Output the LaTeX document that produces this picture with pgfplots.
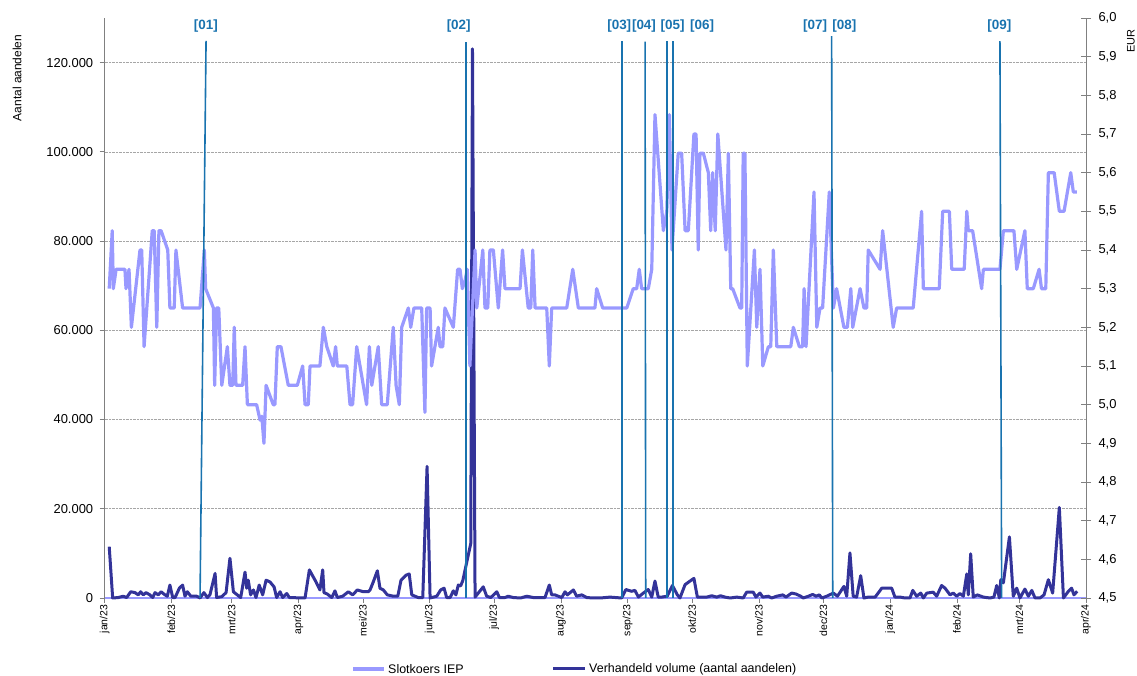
\documentclass[border=0pt]{standalone}
\usepackage{fontspec}
\setmainfont{Liberation Sans}
\usepackage{pgfplots}
\pgfplotsset{compat=1.18}
\definecolor{price}{HTML}{9999FF}
\definecolor{vol}{HTML}{333399}
\definecolor{evt}{RGB}{25,115,175}
\definecolor{axgray}{RGB}{128,128,128}
\begin{document}
\begin{tikzpicture}[x=1bp,y=1bp]
\useasboundingbox (0,0) rectangle (1137,676);
% ---------- volume (left axis) ----------
\begin{axis}[
  at={(104.7bp,78bp)}, anchor=south west,
  scale only axis, width=981.3bp, height=580bp,
  xmin=0, xmax=456, ymin=0, ymax=130000,
  axis y line*=left, axis x line*=bottom,
  x axis line style={draw=price, line width=2.5bp, -},
  y axis line style={draw=axgray, line width=0.8bp, -},
  tick style={draw=axgray, line width=0.8bp},
  tick align=outside, major tick length=5bp,
  xtick={0,31,59,90,120,151,181,212,243,273,304,334,365,396,425,456},
  xticklabels={jan/23,feb/23,mrt/23,apr/23,mei/23,jun/23,jul/23,aug/23,sep/23,okt/23,nov/23,dec/23,jan/24,feb/24,mrt/24,apr/24},
  xticklabel style={rotate=90, anchor=east, font=\fontsize{10.5}{12}\selectfont, inner sep=1.5bp, text=black},
  ytick={0,20000,40000,60000,80000,100000,120000},
  scaled y ticks=false,
  yticklabel style={font=\fontsize{13}{15}\selectfont, xshift=-3bp,
    /pgf/number format/.cd, fixed, precision=0, 1000 sep={.}, assume math mode=true},
  ymajorgrids, grid style={densely dotted, draw=gray!70, line width=0.6bp},
  clip=false,
]
\addplot[vol, line width=3bp, line join=round] coordinates {
(2.1,11500) (3.7,0) (6.3,100) (8.6,400) (10.2,100) (12.1,1400) (14.1,1200) (15.6,700) (16.7,1400) (17.9,700) (19.2,1200) (21.0,700) (22.3,100) (23.4,1200) (24.9,700) (26.2,1400) (28.0,700) (29.1,400) (30.3,2900) (31.6,100) (32.7,100) (34.7,2200) (36.2,2900) (37.3,400) (38.4,1400) (40.0,400) (42.8,400) (44.3,0) (46.1,1200) (47.7,100) (48.9,700) (51.3,5500) (52.0,100) (54.4,300) (56.4,1200) (58.2,8900) (59.8,1400) (61.6,700) (63.2,100) (65.2,5800) (66.0,2200) (66.7,4000) (67.8,700) (69.1,1800) (70.3,100) (71.8,2900) (73.4,700) (75.0,4000) (76.8,3600) (78.7,2500) (79.9,100) (81.5,1400) (82.7,100) (84.6,1000) (85.8,100) (87.6,100) (90.4,0) (93.1,0) (95.1,6300) (98.2,3600) (100.0,1800) (101.3,6300) (101.9,1200) (103.4,900) (105.5,100) (107.0,1600) (108.1,100) (110.6,400) (113.2,1400) (115.2,700) (117.4,1800) (120.2,1400) (122.5,1400) (123.3,1800) (124.8,3600) (126.7,6100) (127.9,2200) (129.5,1800) (131.3,700) (134.1,400) (136.2,400) (137.7,4000) (140.0,5100) (141.5,5400) (142.7,700) (145.7,100) (147.8,100) (149.8,29500) (151.2,0) (154.3,400) (156.1,1800) (157.7,2200) (158.9,100) (160.5,100) (162.0,1600) (163.2,700) (164.3,2900) (165.4,2700) (166.4,3900) (170.1,12200) (170.9,123100) (172.1,200) (173.1,800) (175.9,2500) (177.5,400) (179.4,100) (182.2,1400) (183.4,100) (186.0,100) (187.5,400) (189.9,100) (193.3,0) (196.1,400) (199.2,100) (204.6,100) (206.6,2900) (207.7,700) (209.2,700) (212.4,100) (213.9,1400) (215.0,700) (217.8,1800) (219.3,400) (221.7,700) (224.0,100) (227.0,0) (230.2,0) (234.8,200) (240.2,0) (242.2,1900) (244.8,1500) (246.4,1700) (248.0,200) (250.3,1100) (252.6,1900) (254.2,200) (255.7,3800) (257.2,200) (258.8,200) (261.4,400) (263.8,2800) (266.1,700) (267.3,0) (269.7,3000) (272.0,3800) (273.8,4400) (275.4,200) (277.4,200) (279.7,200) (282.1,500) (284.4,200) (286.2,500) (288.2,200) (290.6,0) (293.7,200) (296.7,0) (298.3,1300) (301.4,1300) (302.6,200) (304.5,1100) (305.8,200) (308.4,400) (309.9,0) (312.3,400) (315.1,700) (316.6,200) (319.2,1100) (321.2,900) (323.4,400) (324.6,0) (327.0,400) (329.0,800) (330.5,400) (332.1,700) (333.2,0) (335.5,400) (338.6,1100) (340.5,400) (343.5,2600) (344.8,400) (346.3,10100) (347.8,400) (349.4,200) (351.3,5000) (352.8,0) (354.8,200) (358.0,200) (361.1,2200) (365.7,2200) (367.2,200) (369.6,200) (371.9,0) (374.2,0) (375.5,1700) (377.3,400) (379.2,1100) (380.4,0) (382.0,1100) (385.0,1300) (386.6,400) (388.9,2800) (390.5,2200) (392.8,700) (394.3,1100) (395.9,400) (397.4,1000) (399.0,400) (400.6,5400) (401.3,700) (402.4,9900) (403.6,200) (405.5,700) (408.3,200) (411.4,0) (413.2,200) (414.5,2800) (415.7,0) (416.4,4100) (417.6,3400) (420.4,13700) (422.2,400) (423.8,2200) (425.3,0) (427.6,2000) (429.2,400) (430.8,1700) (432.3,0) (434.6,0) (436.5,700) (438.5,4100) (440.5,1100) (443.6,20300) (445.5,0) (447.8,1500) (449.3,2200) (450.4,700) (451.9,1500)
};
\end{axis}
% ---------- price (right axis) ----------
\begin{axis}[
  at={(104.7bp,78bp)}, anchor=south west,
  scale only axis, width=981.3bp, height=580bp,
  xmin=0, xmax=456, ymin=4.5, ymax=6.0,
  axis y line*=right, axis x line=none,
  y axis line style={draw=axgray, line width=0.8bp, -},
  tick style={draw=axgray, line width=0.8bp},
  tick align=center, major tick length=10bp,
  ytick={4.5,4.6,4.7,4.8,4.9,5.0,5.1,5.2,5.3,5.4,5.5,5.6,5.7,5.8,5.9,6.0},
  yticklabel style={font=\fontsize{13}{15}\selectfont, xshift=4bp,
    /pgf/number format/.cd, fixed, fixed zerofill, precision=1, use comma, assume math mode=true},
  clip=false,
]
\addplot[price, line width=3.2bp, line join=round] coordinates {
(2.1,5.30) (3.5,5.45) (4.0,5.30) (5.3,5.35) (9.4,5.35) (9.9,5.30) (11.3,5.35) (12.4,5.20) (16.4,5.40) (17.2,5.40) (18.3,5.15) (22.1,5.45) (23.0,5.45) (24.2,5.20) (25.2,5.45) (26.2,5.45) (29.3,5.40) (30.3,5.25) (32.3,5.25) (33.1,5.40) (36.2,5.25) (44.3,5.25) (46.3,5.40) (46.9,5.30) (50.5,5.25) (51.1,5.05) (52.0,5.25) (53.0,5.25) (54.4,5.05) (57.0,5.15) (58.2,5.05) (59.5,5.05) (60.2,5.20) (61.0,5.05) (64.1,5.05) (65.2,5.15) (66.3,5.00) (70.6,5.00) (72.2,4.96) (73.0,4.97) (74.0,4.90) (75.0,5.05) (78.3,5.00) (79.1,5.00) (80.2,5.15) (81.9,5.15) (85.3,5.05) (89.5,5.05) (92.0,5.10) (93.1,5.00) (94.6,5.00) (95.4,5.10) (100.0,5.10) (101.6,5.20) (103.2,5.15) (106.2,5.10) (107.3,5.15) (108.1,5.10) (112.5,5.10) (114.0,5.00) (115.2,5.00) (117.1,5.15) (121.7,5.00) (123.0,5.15) (124.1,5.05) (127.1,5.15) (128.7,5.00) (131.3,5.00) (134.1,5.20) (135.4,5.05) (136.9,5.00) (138.0,5.20) (141.1,5.25) (142.2,5.20) (143.7,5.25) (147.3,5.25) (148.8,4.98) (149.6,5.25) (151.2,5.25) (151.9,5.10) (155.0,5.20) (155.8,5.15) (157.1,5.15) (158.1,5.25) (162.0,5.20) (164.0,5.35) (165.1,5.35) (166.2,5.30) (167.4,5.32) (168.5,5.35) (169.7,5.10) (172.1,5.40) (172.9,5.25) (175.7,5.40) (176.7,5.25) (178.0,5.25) (179.0,5.40) (180.6,5.40) (182.9,5.25) (184.9,5.40) (186.0,5.30) (193.0,5.30) (194.1,5.40) (196.8,5.25) (198.0,5.25) (198.9,5.40) (200.0,5.25) (205.4,5.25) (206.6,5.10) (207.7,5.25) (214.7,5.25) (217.5,5.35) (220.1,5.25) (227.8,5.25) (228.6,5.30) (231.4,5.25) (242.6,5.25) (245.6,5.30) (247.2,5.30) (248.4,5.35) (249.5,5.30) (252.6,5.30) (254.2,5.35) (255.7,5.75) (259.6,5.45) (261.2,5.50) (262.4,5.75) (263.6,5.40) (266.5,5.65) (268.1,5.65) (269.7,5.45) (271.2,5.45) (273.8,5.70) (274.8,5.70) (275.8,5.40) (276.6,5.65) (278.2,5.65) (280.5,5.60) (281.6,5.45) (282.5,5.60) (283.7,5.45) (284.9,5.70) (288.7,5.40) (289.8,5.65) (290.9,5.30) (291.8,5.30) (295.2,5.25) (296.0,5.25) (296.7,5.65) (297.5,5.65) (298.6,5.10) (301.9,5.40) (303.0,5.20) (304.5,5.35) (305.8,5.10) (308.4,5.15) (309.5,5.15) (310.7,5.40) (312.3,5.15) (318.8,5.15) (320.0,5.20) (322.8,5.15) (324.3,5.15) (325.0,5.30) (325.9,5.15) (329.6,5.55) (330.9,5.20) (332.4,5.25) (333.6,5.25) (336.7,5.55) (338.6,5.25) (340.1,5.30) (343.5,5.20) (345.1,5.20) (346.7,5.30) (347.6,5.20) (351.0,5.30) (352.8,5.25) (354.1,5.25) (354.8,5.40) (360.3,5.35) (361.5,5.45) (366.4,5.20) (368.0,5.25) (375.7,5.25) (379.6,5.50) (380.4,5.30) (387.8,5.30) (389.4,5.50) (392.5,5.50) (393.6,5.35) (399.4,5.35) (400.6,5.50) (401.3,5.45) (403.3,5.45) (407.5,5.30) (408.3,5.35) (416.0,5.35) (417.6,5.45) (422.5,5.45) (423.8,5.35) (427.6,5.45) (428.7,5.30) (431.5,5.30) (434.2,5.35) (435.3,5.30) (437.3,5.30) (438.5,5.60) (441.2,5.60) (443.6,5.50) (445.8,5.50) (448.9,5.60) (450.1,5.55) (451.7,5.55)
};
% event lines
\addplot[evt, line width=1.6bp, forget plot] coordinates {(44.3,4.5) (47.1,5.941)};
\addplot[evt, line width=1.6bp, forget plot] coordinates {(168.0,4.5) (168.0,5.938)};
\addplot[evt, line width=1.6bp, forget plot] coordinates {(240.4,4.5) (240.4,5.941)};
\addplot[evt, line width=1.6bp, forget plot] coordinates {(251.4,4.5) (251.1,5.939)};
\addplot[evt, line width=1.6bp, forget plot] coordinates {(261.3,4.5) (261.3,5.941)};
\addplot[evt, line width=1.6bp, forget plot] coordinates {(264.1,4.5) (264.1,5.941)};
\addplot[evt, line width=1.6bp, forget plot] coordinates {(338.3,4.5) (337.8,5.953)};
\addplot[evt, line width=1.6bp, forget plot] coordinates {(416.8,4.5) (416.0,5.940)};
\begin{scope}[every node/.style={text=evt, font=\bfseries\fontsize{13.5}{15}\selectfont, inner sep=0pt}]
\node at (axis cs:47.0,5.978) {[01]};
\node at (axis cs:164.5,5.978) {[02]};
\node at (axis cs:239.1,5.978) {[03]};
\node at (axis cs:250.6,5.978) {[04]};
\node at (axis cs:263.9,5.978) {[05]};
\node at (axis cs:277.6,5.978) {[06]};
\node at (axis cs:330.1,5.978) {[07]};
\node at (axis cs:343.7,5.978) {[08]};
\node at (axis cs:415.7,5.978) {[09]};
\end{scope}
\end{axis}
% axis titles
\node[rotate=90, font=\fontsize{12}{14}\selectfont, inner sep=0pt] at (17,598) {Aantal aandelen};
\node[rotate=90, font=\fontsize{11}{13}\selectfont, inner sep=0pt] at (1131,635) {EUR};
% legend
\draw[price, line width=3.2bp] (353,7) -- (384,7);
\node[anchor=west, font=\fontsize{12.5}{14}\selectfont, inner sep=0pt] at (388,7) {Slotkoers IEP};
\draw[vol, line width=3bp] (553,7) -- (585,7);
\node[anchor=west, font=\fontsize{12.5}{14}\selectfont, inner sep=0pt] at (589,7) {Verhandeld volume (aantal aandelen)};
\end{tikzpicture}
\end{document}
